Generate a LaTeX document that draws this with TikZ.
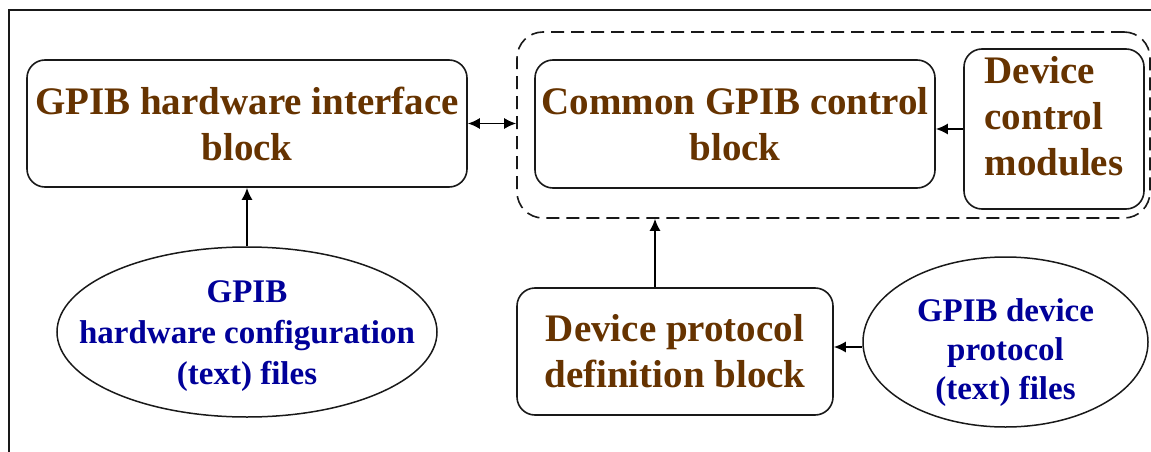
\documentclass[tikz,border=0pt]{standalone}
\usepackage{fontspec}
\setmainfont{Liberation Serif}
\usetikzlibrary{shapes.geometric,arrows.meta}
\definecolor{brn}{RGB}{102,51,0}
\definecolor{blu}{RGB}{0,0,153}
\tikzset{
  blk/.style={draw=black!90, line width=1.6pt, rounded corners=18pt, inner sep=2pt, align=center,
    text=brn, font=\bfseries\fontsize{39}{46}\selectfont},
  ell/.style={draw=black!90, line width=1.5pt, ellipse, inner sep=0pt},
  elltxt/.style={align=center, text=blu, font=\bfseries\fontsize{33}{41}\selectfont, inner sep=0pt},
  cont/.style={draw=black!90, line width=1.6pt, rounded corners=26pt, dash pattern=on 13pt off 7pt},
  arr/.style={line width=1.6pt, -{Latex[length=12pt,width=11pt]}},
  darr/.style={line width=1.6pt, {Latex[length=12pt,width=11pt]}-{Latex[length=12pt,width=11pt]}},
}
\begin{document}
\begin{tikzpicture}[x=1pt,y=-1pt]
\useasboundingbox (0,0) rectangle (1151,452);
\draw[line width=1.4pt, black!90] (9,452) -- (9,10) -- (1151,10);
% container
\node[cont, minimum width=633pt, minimum height=186pt] (cont) at (833.5,125) {};
% boxes
\node[blk, minimum width=440pt, minimum height=127pt] (box1) at (247,123.5) {GPIB hardware interface\\block};
\node[blk, minimum width=400pt, minimum height=128pt] (box2) at (735,124) {Common GPIB control\\block};
\node[blk, minimum width=180pt, minimum height=160pt, align=left] (box3) at (1054,129) {Device\\control\\modules\rule[-26pt]{0pt}{26pt}};
\node[blk, minimum width=316pt, minimum height=127pt] (box4) at (675,351.5) {Device protocol\\definition block};
% ellipses
\node[ell, minimum width=380pt, minimum height=170pt] (e1) at (247,332) {};
\node[elltxt] (e1t) at (247,336) {GPIB\\hardware configuration\\(text) files};
\node[ell, minimum width=285pt, minimum height=170pt] (e2) at (1005.5,342) {};
\node[elltxt, font=\bfseries\fontsize{33}{39}\selectfont] (e2t) at (1005.5,353) {GPIB device\\protocol\\(text) files};
% connectors
\draw[darr] (box1.east) -- (box1.east -| cont.west);
\draw[arr] (box3.west) -- (box3.west -| box2.east);
\draw[arr] (e1.north) -- (box1.south);
\draw[arr] ([xshift=-20pt]box4.north) -- ([xshift=-20pt]box4.north |- cont.south);
\draw[arr] ([yshift=-5pt]e2.west) -- ([yshift=-5pt]e2.west -| box4.east);
\end{tikzpicture}
\end{document}
